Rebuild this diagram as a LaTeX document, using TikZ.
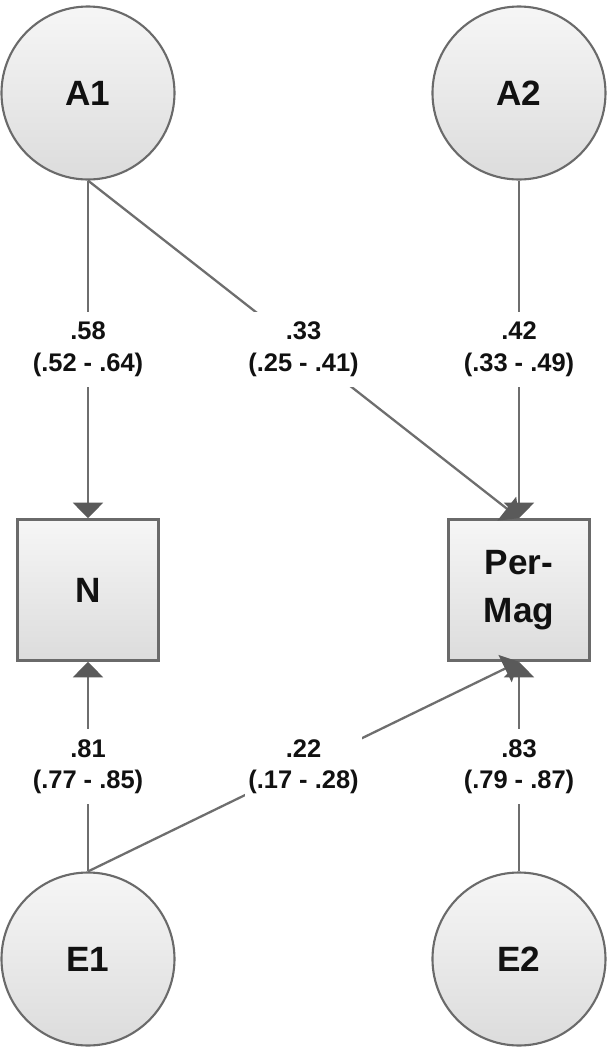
\documentclass[tikz,border=0pt]{standalone}
\usepackage{fontspec}
\setmainfont{Liberation Sans}
\usepackage{tikz}
\usetikzlibrary{arrows.meta}
\definecolor{ink}{HTML}{111111}
\definecolor{rim}{HTML}{6A6A6A}
\definecolor{wire}{HTML}{6E6E6E}
\definecolor{tipgray}{HTML}{5A5A5A}
\definecolor{shadetop}{HTML}{F6F6F6}
\definecolor{shadebot}{HTML}{DCDCDC}
\tikzset{
  latent/.style={circle,draw=rim,top color=shadetop,bottom color=shadebot,
                 line width=1.2pt,minimum size=3.46cm,inner sep=0pt,
                 font=\fontsize{20}{24}\selectfont\bfseries,text=ink},
  manifest/.style={rectangle,draw=rim,top color=shadetop,bottom color=shadebot,
                   line width=1.5pt,minimum size=2.82cm,align=center,inner sep=0pt,
                   font=\fontsize{20}{27}\selectfont\bfseries,text=ink},
  patharr/.style={-{Triangle[length=3.1mm,width=6mm,color=tipgray]},
                  line width=1.3pt,draw=wire},
  coef/.style={fill=white,align=center,inner xsep=2pt,minimum height=1.5cm,
               font=\fontsize{14.5}{18}\selectfont\bfseries,text=ink}
}
\begin{document}
\begin{tikzpicture}[x=1cm,y=1cm]
    \path[use as bounding box,fill=white] (-6.1,-10.5) rectangle (6.1,10.5);

    \node[latent] (A1) at (-4.34,8.64) {A1};
    \node[latent] (A2) at (4.28,8.64) {A2};
    \node[manifest] (N) at (-4.34,-1.30) {N};
    \node[manifest] (PM) at (4.28,-1.30) {Per-\\Mag};
    \node[latent] (E1) at (-4.34,-8.68) {E1};
    \node[latent] (E2) at (4.28,-8.68) {E2};

    \draw[patharr] (A1.south) -- node[coef] {.58\\(.52 - .64)} (N.north);
    \draw[patharr] (A1.south) -- node[coef] {.33\\(.25 - .41)} (PM.north);
    \draw[patharr] (A2.south) -- node[coef] {.42\\(.33 - .49)} (PM.north);
    \draw[patharr] (E1.north) -- node[coef] {.81\\(.77 - .85)} (N.south);
    \draw[patharr] (E1.north) -- node[coef] {.22\\(.17 - .28)} (PM.south);
    \draw[patharr] (E2.north) -- node[coef] {.83\\(.79 - .87)} (PM.south);
  \end{tikzpicture}
\end{document}
